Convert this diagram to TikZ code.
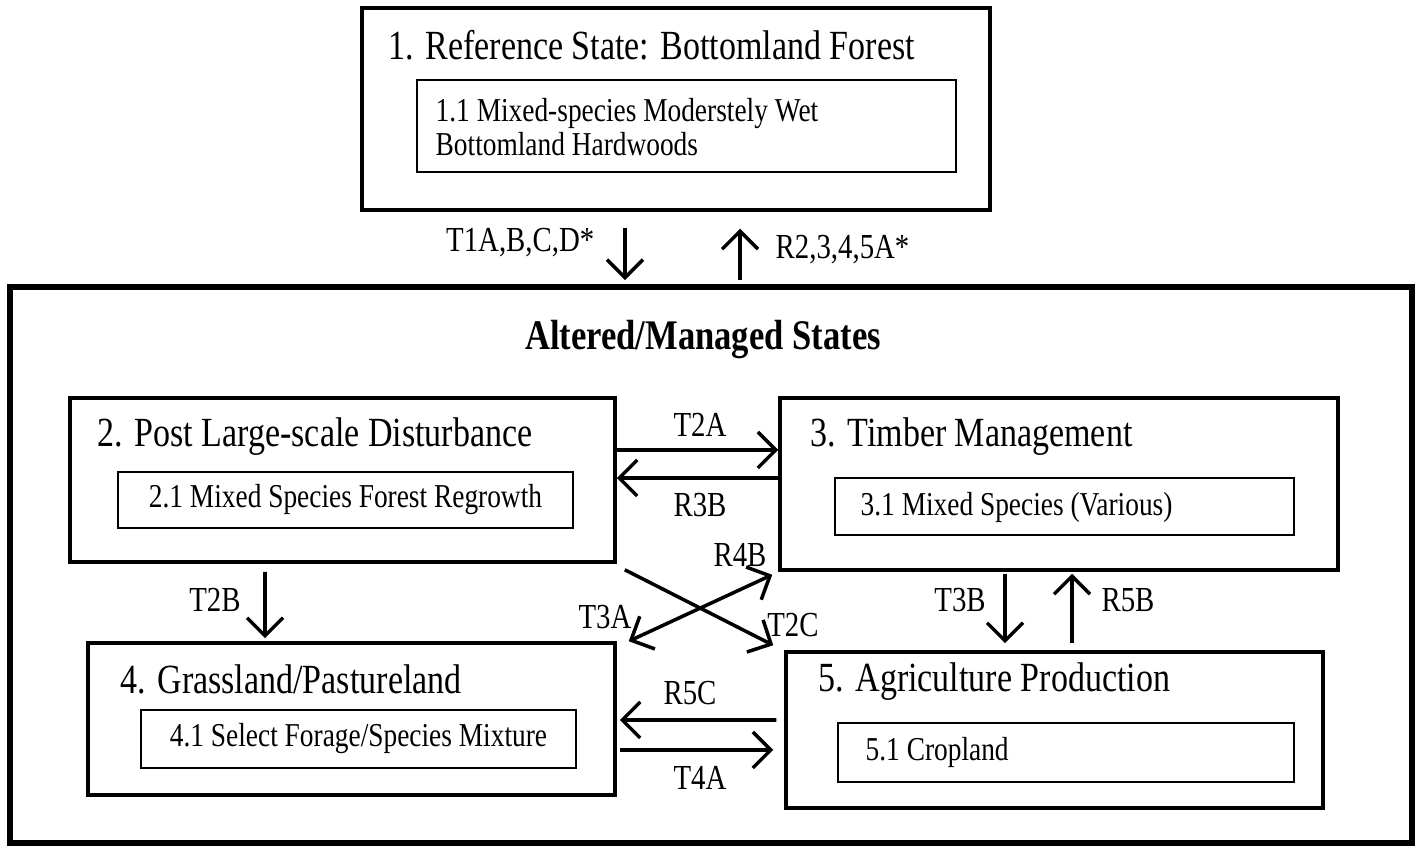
\documentclass[tikz,border=0pt]{standalone}
\usepackage{fontspec}
\setmainfont{Liberation Serif}
\newfontfamily\narrowfont[FakeStretch=0.82]{Liberation Serif}
\usetikzlibrary{arrows.meta}
\newcommand{\boxline}{1pt}

\begin{document}
\begin{tikzpicture}[
    state/.style={draw, line width=\boxline, inner sep=0pt},
    phase/.style={draw, line width=.75pt, inner sep=0pt},
    title/.style={anchor=west, inner sep=0pt, font=\narrowfont\fontsize{11.8}{13}\selectfont},
    sub/.style={inner sep=0pt, font=\narrowfont\fontsize{9.5}{9.5}\selectfont},
    lbl/.style={inner sep=0pt, font=\narrowfont\fontsize{10}{12}\selectfont},
    arr/.style={-{Straight Barb[length=1.8mm,width=3.6mm]}, line width=1pt},
    arrs/.style={{Straight Barb[length=1.8mm,width=3.6mm]}-{Straight Barb[length=1.8mm,width=3.6mm]}, line width=1pt}]

  \useasboundingbox (0,0) rectangle (14.23,-8.47);

  % 1. reference state
  \node (s1) at (6.76,-1.09) [state, minimum width=6.28cm, minimum height=2.02cm] {};
  \node (s1t) at (3.88,-0.45) [title] {1. Reference State: Bottomland Forest};
  \node (s11) at (6.865,-1.26) [phase, minimum width=5.39cm, minimum height=.92cm] {};
  \node (s11t) at (4.35,-1.27) [sub, anchor=west, align=left] {1.1 Mixed-species Moderstely Wet\\Bottomland Hardwoods};

  % altered / managed states
  \node (alt) at (7.11,-5.65) [state, line width=1.6pt, minimum width=14.02cm, minimum height=5.56cm] {};
  \node (altt) at (7.03,-3.40) [inner sep=0pt, font=\narrowfont\bfseries\fontsize{12}{14}\selectfont] {Altered/Managed States};

  % 2. post disturbance
  \node (s2) at (3.425,-4.80) [state, minimum width=5.45cm, minimum height=1.64cm] {};
  \node (s2t) at (0.97,-4.37) [title] {2. Post Large-scale Disturbance};
  \node (s21) at (3.455,-5.00) [phase, minimum width=4.55cm, minimum height=.56cm] {};
  \node (s21t) at (s21) [sub] {2.1 Mixed Species Forest Regrowth};

  % 3. timber
  \node (s3) at (10.59,-4.84) [state, minimum width=5.58cm, minimum height=1.72cm] {};
  \node (s3t) at (8.10,-4.37) [title] {3. Timber Management};
  \node (s31) at (10.645,-5.065) [phase, minimum width=4.59cm, minimum height=.57cm] {};
  \node (s31t) at (8.60,-5.07) [sub, anchor=west] {3.1 Mixed Species (Various)};

  % 4. grassland
  \node (s4) at (3.515,-7.19) [state, minimum width=5.27cm, minimum height=1.52cm] {};
  \node (s4t) at (1.20,-6.79) [title] {4. Grassland/Pastureland};
  \node (s41) at (3.585,-7.39) [phase, minimum width=4.35cm, minimum height=.58cm] {};
  \node (s41t) at (s41) [sub] {4.1 Select Forage/Species Mixture};

  % 5. agriculture
  \node (s5) at (10.545,-7.30) [state, minimum width=5.37cm, minimum height=1.56cm] {};
  \node (s5t) at (8.18,-6.82) [title] {5. Agriculture Production};
  \node (s51) at (10.66,-7.525) [phase, minimum width=4.56cm, minimum height=.59cm] {};
  \node (s51t) at (8.65,-7.52) [sub, anchor=west] {5.1 Cropland};

  % transitions
  \draw[arr] ([xshift=-.51cm,yshift=-.16cm]s1.south) to ([xshift=-.86cm,yshift=.04cm]alt.north);
  \draw[arr] ([xshift=.29cm,yshift=.04cm]alt.north) to ([xshift=.64cm,yshift=-.17cm]s1.south);
  \draw[arr] ([yshift=.30cm]s2.east) to ([yshift=.34cm]s3.west);
  \draw[arr] ([yshift=.06cm]s3.west) to ([yshift=.02cm]s2.east);
  \draw[arr] ([xshift=-.775cm,yshift=-.08cm]s2.south) to ([xshift=-.865cm,yshift=.03cm]s4.north);
  \draw[arr] ([xshift=.08cm,yshift=-.06cm]s2.south east) to ([xshift=-.11cm,yshift=.05cm]s5.north west);
  \draw[arrs] ([xshift=.12cm]s4.north east) to ([xshift=-.06cm,yshift=-.03cm]s3.south west);
  \draw[arr] ([xshift=-.54cm,yshift=-.02cm]s3.south) to ([xshift=-.495cm,yshift=.07cm]s5.north);
  \draw[arr] ([xshift=.175cm,yshift=.07cm]s5.north) to ([xshift=.13cm,yshift=-.02cm]s3.south);
  \draw[arr] ([xshift=-.08cm,yshift=.10cm]s5.west) to ([xshift=.03cm,yshift=-.01cm]s4.east);
  \draw[arr] ([xshift=.03cm,yshift=-.31cm]s4.east) to ([xshift=-.11cm,yshift=-.20cm]s5.west);

  % labels
  \node (l1) at (5.95,-2.43) [lbl, anchor=east] {T1A,B,C,D*};
  \node (l2) at (7.75,-2.50) [lbl, anchor=west] {R2,3,4,5A*};
  \node (l3) at (7.00,-4.25) [lbl] {T2A};
  \node (l4) at (7.00,-5.05) [lbl] {R3B};
  \node (l5) at (2.15,-6.00) [lbl] {T2B};
  \node (l6) at (7.40,-5.55) [lbl] {R4B};
  \node (l7) at (6.05,-6.17) [lbl] {T3A};
  \node (l8) at (7.93,-6.25) [lbl] {T2C};
  \node (l9) at (9.60,-6.00) [lbl] {T3B};
  \node (l10) at (11.28,-6.00) [lbl] {R5B};
  \node (l11) at (6.90,-6.93) [lbl] {R5C};
  \node (l12) at (7.00,-7.78) [lbl] {T4A};

\end{tikzpicture}
\end{document}
